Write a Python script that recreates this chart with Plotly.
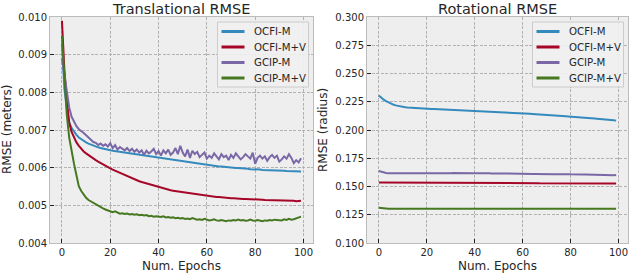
import plotly.graph_objects as go

epochs = list(range(100))

# Translational RMSE (meters)
trans_ocfi_m = [
    0.0093, 0.0081, 0.0076, 0.0072, 0.00705, 0.00695, 0.00687, 0.0068, 0.00675, 0.00671,
    0.00667, 0.00664, 0.00661, 0.00658, 0.00656, 0.00654, 0.00652, 0.0065, 0.00649, 0.00647,
    0.00646, 0.00645, 0.00644, 0.00643, 0.00642, 0.00641, 0.00640, 0.00639, 0.00638, 0.00637,
    0.00636, 0.00635, 0.00634, 0.00633, 0.00632, 0.00631, 0.00630, 0.00629, 0.00628, 0.00627,
    0.00626, 0.00625, 0.00624, 0.00623, 0.00622, 0.00621, 0.00620, 0.00619, 0.00618, 0.00618,
    0.00617, 0.00616, 0.00615, 0.00614, 0.00613, 0.00612, 0.00611, 0.00610, 0.00609, 0.00608,
    0.00607, 0.00606, 0.00606, 0.00605, 0.00604, 0.00603, 0.00603, 0.00602, 0.00601, 0.00601,
    0.00600, 0.00600, 0.00599, 0.00599, 0.00598, 0.00598, 0.00597, 0.00597, 0.00596, 0.00596,
    0.00595, 0.00595, 0.00595, 0.00594, 0.00594, 0.00594, 0.00593, 0.00593, 0.00593, 0.00592,
    0.00592, 0.00592, 0.00592, 0.00591, 0.00591, 0.00591, 0.00591, 0.00590, 0.00590, 0.00590,
]
trans_ocfi_mv = [
    0.0099, 0.0086, 0.0078, 0.0072, 0.00695, 0.00680, 0.00667, 0.00658, 0.00650, 0.00643,
    0.00638, 0.00633, 0.00628, 0.00624, 0.00620, 0.00616, 0.00612, 0.00608, 0.00604, 0.00601,
    0.00598, 0.00595, 0.00592, 0.00589, 0.00586, 0.00583, 0.00580, 0.00577, 0.00574, 0.00571,
    0.00568, 0.00566, 0.00564, 0.00562, 0.00560, 0.00558, 0.00556, 0.00554, 0.00552, 0.00550,
    0.00548, 0.00546, 0.00545, 0.00543, 0.00541, 0.00540, 0.00539, 0.00538, 0.00537, 0.00536,
    0.00535, 0.00534, 0.00533, 0.00532, 0.00531, 0.00530, 0.00529, 0.00528, 0.00527, 0.00526,
    0.00525, 0.00524, 0.00524, 0.00523, 0.00522, 0.00522, 0.00521, 0.00521, 0.00520, 0.00520,
    0.00519, 0.00519, 0.00518, 0.00518, 0.00518, 0.00517, 0.00517, 0.00517, 0.00516, 0.00516,
    0.00516, 0.00515, 0.00515, 0.00515, 0.00514, 0.00514, 0.00514, 0.00514, 0.00513, 0.00513,
    0.00513, 0.00513, 0.00512, 0.00512, 0.00512, 0.00512, 0.00512, 0.00511, 0.00512, 0.00512,
]
trans_gcip_m = [
    0.0089, 0.0085, 0.0080, 0.0076, 0.00735, 0.00720, 0.00710, 0.00702, 0.00698, 0.00692,
    0.00686, 0.00680, 0.00676, 0.00668, 0.00666, 0.00660, 0.00664, 0.00658, 0.00662, 0.00656,
    0.00665, 0.00652, 0.00660, 0.00648, 0.00655, 0.00650, 0.00646, 0.00652, 0.00644, 0.00650,
    0.00642, 0.00648, 0.00640, 0.00646, 0.00634, 0.00645, 0.00638, 0.00643, 0.00650, 0.00636,
    0.00644, 0.00632, 0.00646, 0.00638, 0.00648, 0.00634, 0.00640, 0.00652, 0.00636, 0.00658,
    0.00640, 0.00630, 0.00648, 0.00626, 0.00645, 0.00636, 0.00642, 0.00628, 0.00634, 0.00640,
    0.00624, 0.00632, 0.00626, 0.00638, 0.00630, 0.00622, 0.00636, 0.00628, 0.00632, 0.00620,
    0.00634, 0.00626, 0.00638, 0.00630, 0.00622, 0.00628, 0.00636, 0.00630, 0.00624, 0.00640,
    0.00610, 0.00626, 0.00632, 0.00624, 0.00630, 0.00618, 0.00628, 0.00634, 0.00626, 0.00632,
    0.00616, 0.00622, 0.00630, 0.00624, 0.00636, 0.00626, 0.00612, 0.00620, 0.00614, 0.00625,
]
trans_gcip_mv = [
    0.0095, 0.0083, 0.0074, 0.0068, 0.0064, 0.0061, 0.0058, 0.00550, 0.00538, 0.00528,
    0.00520, 0.00514, 0.00510, 0.00506, 0.00502, 0.00500, 0.00496, 0.00492, 0.00489, 0.00486,
    0.00483, 0.00482, 0.00484, 0.00480, 0.00478, 0.00479, 0.00477, 0.00478, 0.00476, 0.00477,
    0.00475, 0.00476, 0.00474, 0.00475, 0.00473, 0.00474, 0.00471, 0.00472, 0.00470, 0.00471,
    0.00470, 0.00469, 0.00471, 0.00468, 0.00469, 0.00467, 0.00468, 0.00466, 0.00467, 0.00465,
    0.00466, 0.00464, 0.00465, 0.00463, 0.00466, 0.00464, 0.00462, 0.00463, 0.00461, 0.00464,
    0.00462, 0.00460, 0.00461, 0.00463, 0.00460, 0.00459, 0.00461, 0.00460, 0.00458, 0.00460,
    0.00459, 0.00461, 0.00460, 0.00462, 0.00460, 0.00461, 0.00459, 0.00460, 0.00462, 0.00460,
    0.00459, 0.00461, 0.00460, 0.00458, 0.00460, 0.00459, 0.00461, 0.00460, 0.00462, 0.00461,
    0.00462, 0.00460, 0.00463, 0.00461, 0.00464, 0.00462, 0.00463, 0.00465, 0.00466, 0.00470,
]

# Rotational RMSE (radius)
rot_ocfi_m = [
    0.2305, 0.2285, 0.2268, 0.2255, 0.2243, 0.2233, 0.2225, 0.2218, 0.2212, 0.2207,
    0.2203, 0.2201, 0.2199, 0.2197, 0.2195, 0.2193, 0.2192, 0.2190, 0.2189, 0.2187,
    0.2186, 0.2186, 0.2185, 0.2185, 0.2184, 0.2184, 0.2183, 0.2182, 0.2182, 0.2181,
    0.2180, 0.2180, 0.2179, 0.2178, 0.2177, 0.2177, 0.2176, 0.2175, 0.2174, 0.2173,
    0.2172, 0.2171, 0.2170, 0.2169, 0.2168, 0.2167, 0.2166, 0.2165, 0.2164, 0.2163,
    0.2162, 0.2161, 0.2160, 0.2159, 0.2158, 0.2157, 0.2156, 0.2154, 0.2152, 0.2150,
    0.2148, 0.2147, 0.2146, 0.2144, 0.2142, 0.2141, 0.2139, 0.2138, 0.2136, 0.2135,
    0.2133, 0.2132, 0.2130, 0.2129, 0.2127, 0.2126, 0.2124, 0.2122, 0.2121, 0.2119,
    0.2118, 0.2116, 0.2115, 0.2113, 0.2111, 0.2110, 0.2108, 0.2106, 0.2105, 0.2103,
    0.2101, 0.2099, 0.2098, 0.2096, 0.2094, 0.2092, 0.2090, 0.2088, 0.2086, 0.2083,
]
rot_ocfi_mv = [
    0.1535, 0.1535, 0.1535, 0.1535, 0.1535, 0.1535, 0.1535, 0.1535, 0.1535, 0.1535,
    0.1534, 0.1534, 0.1534, 0.1534, 0.1534, 0.1534, 0.1534, 0.1534, 0.1534, 0.1534,
    0.1534, 0.1534, 0.1534, 0.1534, 0.1534, 0.1534, 0.1534, 0.1534, 0.1533, 0.1533,
    0.1533, 0.1533, 0.1533, 0.1533, 0.1532, 0.1532, 0.1532, 0.1532, 0.1532, 0.1532,
    0.1532, 0.1532, 0.1531, 0.1531, 0.1531, 0.1531, 0.1531, 0.1531, 0.1531, 0.1530,
    0.1530, 0.1530, 0.1530, 0.1530, 0.1530, 0.1530, 0.1530, 0.1530, 0.1529, 0.1529,
    0.1529, 0.1529, 0.1529, 0.1529, 0.1529, 0.1529, 0.1529, 0.1528, 0.1528, 0.1528,
    0.1528, 0.1528, 0.1528, 0.1528, 0.1528, 0.1528, 0.1528, 0.1528, 0.1528, 0.1528,
    0.1527, 0.1527, 0.1527, 0.1527, 0.1527, 0.1527, 0.1527, 0.1527, 0.1527, 0.1527,
    0.1527, 0.1527, 0.1527, 0.1527, 0.1526, 0.1526, 0.1526, 0.1526, 0.1526, 0.1526,
]
rot_gcip_m = [
    0.1637, 0.1630, 0.1624, 0.1620, 0.1618, 0.1617, 0.1616, 0.1617, 0.1617, 0.1616,
    0.1617, 0.1618, 0.1617, 0.1616, 0.1617, 0.1618, 0.1617, 0.1617, 0.1618, 0.1617,
    0.1617, 0.1618, 0.1617, 0.1616, 0.1617, 0.1618, 0.1617, 0.1617, 0.1616, 0.1617,
    0.1618, 0.1619, 0.1618, 0.1617, 0.1617, 0.1618, 0.1617, 0.1616, 0.1617, 0.1617,
    0.1617, 0.1618, 0.1617, 0.1617, 0.1616, 0.1617, 0.1617, 0.1616, 0.1617, 0.1617,
    0.1616, 0.1616, 0.1617, 0.1616, 0.1616, 0.1615, 0.1612, 0.1611, 0.1610, 0.1611,
    0.1610, 0.1610, 0.1609, 0.1610, 0.1610, 0.1611, 0.1610, 0.1609, 0.1610, 0.1610,
    0.1609, 0.1610, 0.1610, 0.1609, 0.1609, 0.1610, 0.1609, 0.1609, 0.1610, 0.1609,
    0.1608, 0.1609, 0.1609, 0.1608, 0.1608, 0.1607, 0.1606, 0.1605, 0.1604, 0.1603,
    0.1601, 0.1600, 0.1600, 0.1601, 0.1600, 0.1599, 0.1600, 0.1600, 0.1599, 0.1601,
]
rot_gcip_mv = [
    0.1312, 0.1309, 0.1306, 0.1305, 0.1304, 0.1304, 0.1304, 0.1304, 0.1304, 0.1304,
    0.1304, 0.1304, 0.1304, 0.1304, 0.1304, 0.1304, 0.1304, 0.1304, 0.1304, 0.1304,
    0.1304, 0.1304, 0.1304, 0.1304, 0.1304, 0.1304, 0.1304, 0.1304, 0.1304, 0.1304,
    0.1304, 0.1304, 0.1304, 0.1304, 0.1304, 0.1304, 0.1304, 0.1304, 0.1304, 0.1304,
    0.1304, 0.1304, 0.1304, 0.1304, 0.1304, 0.1304, 0.1304, 0.1304, 0.1304, 0.1304,
    0.1304, 0.1304, 0.1304, 0.1304, 0.1304, 0.1304, 0.1304, 0.1304, 0.1304, 0.1304,
    0.1304, 0.1304, 0.1304, 0.1304, 0.1304, 0.1304, 0.1304, 0.1304, 0.1304, 0.1304,
    0.1304, 0.1304, 0.1304, 0.1304, 0.1304, 0.1304, 0.1304, 0.1304, 0.1304, 0.1304,
    0.1304, 0.1304, 0.1304, 0.1304, 0.1304, 0.1304, 0.1304, 0.1304, 0.1304, 0.1304,
    0.1304, 0.1304, 0.1304, 0.1304, 0.1304, 0.1304, 0.1304, 0.1304, 0.1304, 0.1304,
]

series_names = ["OCFI-M", "OCFI-M+V", "GCIP-M", "GCIP-M+V"]
colors = ["#348ABD", "#A60628", "#7A68A6", "#467821"]

trans_ticks = [0.004, 0.005, 0.006, 0.007, 0.008, 0.009, 0.010]
trans_ticklabels = ["0.004", "0.005", "0.006", "0.007", "0.008", "0.009", "0.010"]
rot_ticks = [0.100, 0.125, 0.150, 0.175, 0.200, 0.225, 0.250, 0.275, 0.300]
rot_ticklabels = ["0.100", "0.125", "0.150", "0.175", "0.200", "0.225", "0.250", "0.275", "0.300"]
x_ticks = [0, 20, 40, 60, 80, 100]

titles = ["Translational RMSE", "Rotational RMSE"]
y_titles = ["RMSE (meters)", "RMSE (radius)"]
x_title = "Num. Epochs"

FONT = "DejaVu Sans"
TXT = "#262626"
W, H = 630, 274

fig = go.Figure()
trans = [trans_ocfi_m, trans_ocfi_mv, trans_gcip_m, trans_gcip_mv]
rot = [rot_ocfi_m, rot_ocfi_mv, rot_gcip_m, rot_gcip_mv]
for name, col, ys in zip(series_names, colors, trans):
    fig.add_trace(go.Scatter(x=epochs, y=ys, mode="lines", name=name, showlegend=False,
                             hoverinfo="skip",
                             line=dict(color=col, width=2), xaxis="x", yaxis="y"))
for name, col, ys in zip(series_names, colors, rot):
    fig.add_trace(go.Scatter(x=epochs, y=ys, mode="lines", name=name, showlegend=False,
                             hoverinfo="skip",
                             line=dict(color=col, width=2), xaxis="x2", yaxis="y2"))


def px_x(p):
    return p / W


def px_y(p):
    return 1 - p / H


PLOT_L = [50, 367]
PLOT_R = [313, 628]
PLOT_T, PLOT_B = 17, 243

left_dom = [px_x(PLOT_L[0]), px_x(PLOT_R[0])]
right_dom = [px_x(PLOT_L[1]), px_x(PLOT_R[1])]
y_dom = [px_y(PLOT_B), px_y(PLOT_T)]

axis_common = dict(
    showline=True, linecolor="#bcbcbc", linewidth=1, mirror=True,
    showgrid=True, gridcolor="#b2b2b2", gridwidth=0.7, griddash="3px,1.5px",
    ticks="inside", ticklen=4, tickcolor="#222", tickwidth=1,
    tickfont=dict(family=FONT, size=10, color=TXT),
    zeroline=False, automargin=False,
)

annotations = []
shapes = []
for i in range(2):
    cx = (PLOT_L[i] + PLOT_R[i]) / 2
    # subplot title
    annotations.append(dict(text=titles[i], x=px_x(cx), y=px_y(8.5), xref="paper", yref="paper",
                            showarrow=False, xanchor="center", yanchor="middle",
                            font=dict(family=FONT, size=14.5, color=TXT)))
    # x-axis title
    annotations.append(dict(text=x_title, x=px_x(cx), y=px_y(266), xref="paper", yref="paper",
                            showarrow=False, xanchor="center", yanchor="middle",
                            font=dict(family=FONT, size=12, color=TXT)))
    # y-axis title
    ytx = [7, 323][i]
    annotations.append(dict(text=y_titles[i], x=px_x(ytx), y=px_y((PLOT_T + PLOT_B) / 2),
                            xref="paper", yref="paper", showarrow=False, textangle=-90,
                            xanchor="center", yanchor="middle",
                            font=dict(family=FONT, size=12, color=TXT)))
    # legend (drawn with shapes + text)
    bx1 = PLOT_R[i] - 4.5
    bx0 = bx1 - 91
    by0, by1 = 22, 87
    shapes.append(dict(type="rect", xref="paper", yref="paper",
                       x0=px_x(bx0), x1=px_x(bx1), y0=px_y(by1), y1=px_y(by0),
                       line=dict(color="#cccccc", width=1), fillcolor="rgba(240,240,240,0.9)",
                       layer="above"))
    for k, (name, col) in enumerate(zip(series_names, colors)):
        yy = 31.5 + 15.5 * k
        shapes.append(dict(type="line", xref="paper", yref="paper",
                           x0=px_x(bx0 + 4), x1=px_x(bx0 + 27), y0=px_y(yy), y1=px_y(yy),
                           line=dict(color=col, width=3), layer="above"))
        annotations.append(dict(text=name, x=px_x(bx0 + 34), y=px_y(yy), xref="paper", yref="paper",
                                showarrow=False, xanchor="left", yanchor="middle",
                                font=dict(family=FONT, size=10.2, color=TXT)))

fig.update_layout(
    width=W, height=H,
    margin=dict(l=0, r=0, t=0, b=0, autoexpand=False),
    paper_bgcolor="white", plot_bgcolor="#eeeeee",
    font=dict(family=FONT, color=TXT),
    showlegend=False,
    hovermode=False,
    xaxis=dict(domain=left_dom, anchor="y", range=[-4.95, 103.95], tickvals=x_ticks,
               **axis_common),
    yaxis=dict(domain=y_dom, anchor="x", range=[0.004, 0.010],
               tickvals=trans_ticks, ticktext=trans_ticklabels, **axis_common),
    xaxis2=dict(domain=right_dom, anchor="y2", range=[-4.95, 103.95], tickvals=x_ticks,
                **axis_common),
    yaxis2=dict(domain=y_dom, anchor="x2", range=[0.100, 0.300],
                tickvals=rot_ticks, ticktext=rot_ticklabels, **axis_common),
    annotations=annotations,
    shapes=shapes,
)

# remove the browser's default 8px page margin so the figure fills the window
fig.write_html("out.html", config={"displayModeBar": False},
               post_script="document.body.style.margin='0';")
